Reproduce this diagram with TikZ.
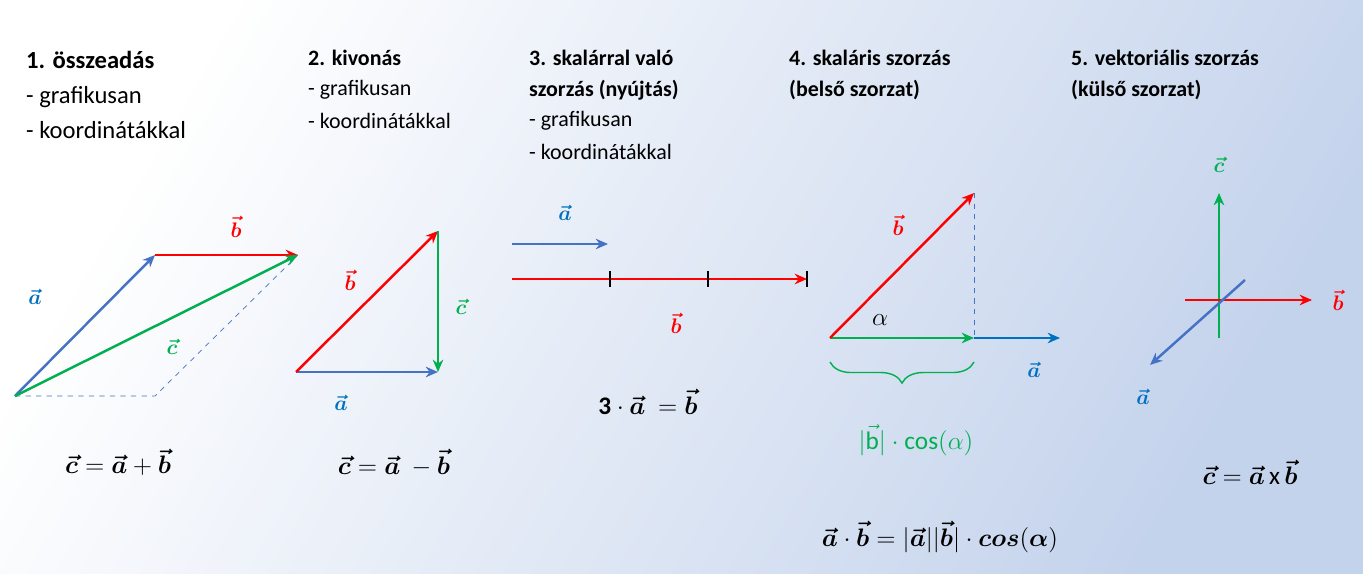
\documentclass[tikz,border=0pt]{standalone}
\usepackage{amsmath,amssymb,bm}
\usepackage{fontspec}
\setmainfont{Carlito}
\usetikzlibrary{arrows.meta,decorations.pathreplacing}
\definecolor{vblue}{HTML}{4472C4}
\definecolor{lblue}{HTML}{0070C0}
\definecolor{vred}{HTML}{FF0000}
\definecolor{vgreen}{HTML}{00B050}
\newcommand\vv[1]{\bm{\vec{#1}}}

\begin{document}
\begin{tikzpicture}[x=0.02cm,y=-0.02cm,
    vec/.style={line width=1.4pt,-{Stealth[length=7pt,width=6pt]}},
    help/.style={vblue,thin,dashed},
    head/.style={anchor=west,font=\fontsize{12.5}{14}\selectfont\bfseries},
    item/.style={anchor=west,font=\fontsize{12.5}{14}\selectfont},
    lab/.style={font=\large},
    form/.style={font=\Large}]
    \shade[shading=axis,top color=white,bottom color={rgb,255:red,196;green,211;blue,236},
           shading angle=60] (0,0) rectangle (1363,574);
    % headings
    \node[head,font=\fontsize{14}{16}\selectfont\bfseries] (h1) at (20,60) {1. összeadás};
    \node[item,font=\fontsize{14}{16}\selectfont] (h1a) at (20,97) {- grafikusan};
    \node[item,font=\fontsize{14}{16}\selectfont] (h1b) at (20,130) {- koordinátákkal};
    \node[head] (h2) at (302,58) {2. kivonás};
    \node[item] (h2a) at (302,90) {- grafikusan};
    \node[item] (h2b) at (302,121) {- koordinátákkal};
    \node[head] (h3) at (523,58) {3. skalárral való};
    \node[head] (h3b) at (523,90) {szorzás (nyújtás)};
    \node[item] (h3c) at (523,121) {- grafikusan};
    \node[item] (h3d) at (523,152) {- koordinátákkal};
    \node[head] (h4) at (783,58) {4. skaláris szorzás};
    \node[head] (h4b) at (783,90) {(belső szorzat)};
    \node[head] (h5) at (1065,58) {5. vektoriális szorzás};
    \node[head] (h5b) at (1065,90) {(külső szorzat)};
    % 1. addition
    \coordinate (o1) at (15,396);
    \coordinate (p1) at (155,255);
    \coordinate (q1) at (298,255);
    \coordinate (r1) at (155,396);
    \draw[help] (o1) -- (r1) -- (q1);
    \draw[vec,vblue] (o1) -- (p1);
    \draw[vec,vred] (p1) -- (q1);
    \draw[vec,vgreen] (o1) -- (q1);
    \node[lab,lblue] (a1) at (35,297) {$\vv a$};
    \node[lab,vred] (b1) at (236,227) {$\vv b$};
    \node[lab,vgreen] (c1) at (172,347) {$\vv c$};
    \node[form] (f1) at (118,462) {$\vv c=\vv a+\vv b$};
    % 2. subtraction
    \coordinate (o2) at (296,372);
    \coordinate (p2) at (438,231);
    \coordinate (q2) at (438,372);
    \draw[vec,vblue] (o2) -- (q2);
    \draw[vec,vred] (o2) -- (p2);
    \draw[vec,vgreen] (p2) -- (q2);
    \node[lab,vred] (b2) at (350,280) {$\vv b$};
    \node[lab,vgreen] (c2) at (461,307) {$\vv c$};
    \node[lab,lblue] (a2) at (341,403) {$\vv a$};
    \node[form] (f2) at (394,463) {$\vv c=\vv a\ -\vv b$};
    % 3. scaling
    \coordinate (o3) at (512,244);
    \coordinate (p3) at (608,244);
    \coordinate (s3) at (512,279);
    \coordinate (t3) at (807,279);
    \draw[vec,vblue] (o3) -- (p3);
    \draw[vec,vred] (s3) -- (t3);
    \foreach \x in {610,708,807}
        \draw[line width=1.4pt] (\x,271) -- (\x,287);
    \node[lab,lblue] (a3) at (565,213) {$\vv a$};
    \node[lab,vred] (b3) at (676,323) {$\vv b$};
    \node[form] (f3) at (648,402) {$\mathbf{3}\cdot\vv a\ =\vv b$};
    % 4. dot product
    \coordinate (o4) at (830,338);
    \coordinate (p4) at (974,193);
    \coordinate (q4) at (974,338);
    \coordinate (r4) at (1060,338);
    \draw[help] (p4) -- (q4);
    \draw[vec,lblue] (q4) -- (r4);
    \draw[vec,vgreen] (o4) -- (q4);
    \draw[vec,vred] (o4) -- (p4);
    \node[form] (al4) at (880,320) {$\alpha$};
    \node[lab,vred] (b4) at (898,225) {$\vv b$};
    \node[lab,lblue] (a4) at (1034,370) {$\vv a$};
    \draw[vgreen,thick,decorate,decoration={brace,mirror,amplitude=12pt}] (830,362) -- (974,362);
    \node[vgreen,font=\Large] (m4) at (916,440) {$|\vec{\mathrm{b}}|\cdot\mathrm{cos}(\alpha)$};
    \node[form] (f4) at (940,537) {$\vv a\cdot\vv b=|\vv a||\vv b|\cdot\bm{cos}(\bm\alpha)$};
    % 5. cross product
    \coordinate (o5) at (1219,338);
    \coordinate (p5) at (1219,193);
    \coordinate (s5) at (1185,300);
    \coordinate (t5) at (1312,300);
    \coordinate (u5) at (1245,280);
    \coordinate (v5) at (1150,365);
    \draw[vec,vgreen] (o5) -- (p5);
    \draw[vec,vred] (s5) -- (t5);
    \draw[vec,vblue] (u5) -- (v5);
    \node[lab,vgreen] (c5) at (1219,165) {$\vv c$};
    \node[lab,vred] (b5) at (1338,300) {$\vv b$};
    \node[lab,lblue] (a5) at (1143,397) {$\vv a$};
    \node[form] (f5) at (1250,472) {$\vv c=\vv a\,\mathrm{x}\,\vv b$};
    \useasboundingbox (0,0) rectangle (1363,574);
\end{tikzpicture}
\end{document}
